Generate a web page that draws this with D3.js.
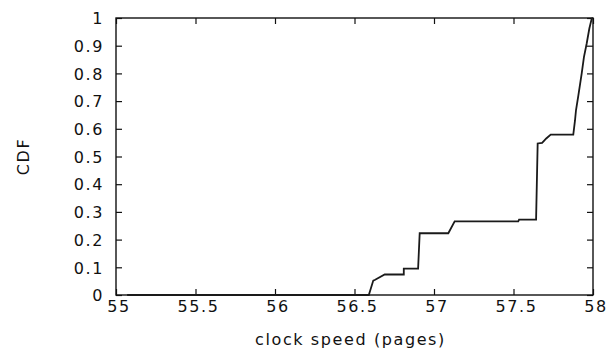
<!DOCTYPE html>
<html>
<head>
<meta charset="utf-8">
<script src="https://cdn.jsdelivr.net/npm/d3@7"></script>
<style>
  html, body { margin: 0; padding: 0; background: #fff; }
  svg { display: block; }
  text { font-family: "DejaVu Sans", "Liberation Sans", sans-serif; font-size: 16px; letter-spacing: 1.6px; fill: #111; }
</style>
</head>
<body>
<svg id="chart"></svg>
<script>
// clock speed (pages) vs CDF
const speed = [55.07, 56.59, 56.618, 56.63, 56.69, 56.81, 56.81, 56.90, 56.91, 57.09, 57.13,
  57.53, 57.535, 57.642, 57.652, 57.68, 57.706, 57.734, 57.876, 57.887, 57.893, 57.908,
  57.929, 57.943, 57.96, 57.977, 57.992, 58.0];
const cdf = [0, 0, 0.052, 0.055, 0.074, 0.074, 0.095, 0.095, 0.223, 0.223, 0.266,
  0.266, 0.272, 0.272, 0.547, 0.549, 0.565, 0.579, 0.579, 0.631, 0.667, 0.721,
  0.8, 0.859, 0.907, 0.962, 0.998, 1.0];

const xTicks = [55, 55.5, 56, 56.5, 57, 57.5, 58];
const yTicks = [0, 0.1, 0.2, 0.3, 0.4, 0.5, 0.6, 0.7, 0.8, 0.9, 1];

const width = 614, height = 352;
const margin = { top: 18, right: 21, bottom: 57, left: 116 };

const $svg = d3.select("#chart").attr("width", width).attr("height", height);

const x = d3.scaleLinear().domain([55, 58]).range([margin.left, width - margin.right]);
const y = d3.scaleLinear().domain([0, 1]).range([height - margin.bottom, margin.top]);

const tickLen = 6;

// axes with inward ticks on all four sides
const gx = $svg.append("g").attr("transform", `translate(0,${y(0)})`)
  .call(d3.axisBottom(x).tickValues(xTicks).tickSize(-tickLen).tickPadding(14)
    .tickFormat(d => d3.format("")(d)));
const gxTop = $svg.append("g").attr("transform", `translate(0,${y(1)})`)
  .call(d3.axisTop(x).tickValues(xTicks).tickSize(-tickLen).tickFormat(""));
const gy = $svg.append("g").attr("transform", `translate(${x(55)},0)`)
  .call(d3.axisLeft(y).tickValues(yTicks).tickSize(-tickLen).tickPadding(12)
    .tickFormat(d => d3.format("")(d)));
const gyRight = $svg.append("g").attr("transform", `translate(${x(58)},0)`)
  .call(d3.axisRight(y).tickValues(yTicks).tickSize(-tickLen).tickFormat(""));

[gx, gxTop, gy, gyRight].forEach(g => {
  g.select(".domain").remove();
  g.selectAll(".tick line").attr("stroke", "#111").attr("stroke-width", 1.2);
  g.selectAll("text").attr("font-family", null).attr("font-size", null).attr("fill", "#111");
});
gx.selectAll("text").attr("dy", "0.2em").attr("dx", "0.15em");
gy.selectAll("text").attr("dy", "0.36em");

// frame
$svg.append("rect")
  .attr("x", x(55)).attr("y", y(1))
  .attr("width", x(58) - x(55)).attr("height", y(0) - y(1))
  .attr("fill", "none").attr("stroke", "#111").attr("stroke-width", 1.4);

// CDF curve
const line = d3.line().x((d, i) => x(d)).y((d, i) => y(cdf[i]));
$svg.append("path")
  .datum(speed)
  .attr("d", line)
  .attr("fill", "none")
  .attr("stroke", "#1a1a1a")
  .attr("stroke-width", 1.8);

// axis titles
$svg.append("text")
  .attr("x", (x(55) + x(58)) / 2 - 4)
  .attr("y", 345)
  .attr("text-anchor", "middle")
  .text("clock speed (pages)");

$svg.append("text")
  .attr("transform", `translate(29,${(y(0) + y(1)) / 2}) rotate(-90)`)
  .attr("text-anchor", "middle")
  .text("CDF");
</script>
</body>
</html>
